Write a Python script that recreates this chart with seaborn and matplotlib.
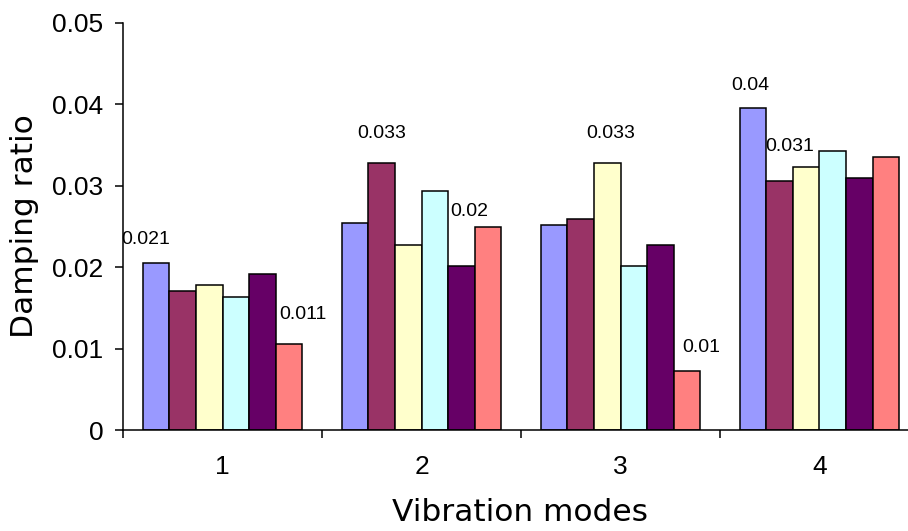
import matplotlib
matplotlib.use("Agg")
import matplotlib.pyplot as plt
import seaborn as sns
import pandas as pd
from matplotlib.ticker import FixedLocator

# ---- data ----
modes = ["1", "2", "3", "4"]
series = ["S1", "S2", "S3", "S4", "S5", "S6"]
s1 = [0.0205, 0.0254, 0.0252, 0.0396]
s2 = [0.0171, 0.0328, 0.0259, 0.0306]
s3 = [0.0178, 0.0227, 0.0328, 0.0323]
s4 = [0.0163, 0.0294, 0.0202, 0.0343]
s5 = [0.0192, 0.0202, 0.0227, 0.0309]
s6 = [0.0106, 0.0249, 0.0072, 0.0335]
y_ticks = [0, 0.01, 0.02, 0.03, 0.04, 0.05]
y_tick_labels = ["0", "0.01", "0.02", "0.03", "0.04", "0.05"]
# value labels: (mode index, series index, text)
label_mode = [0, 0, 1, 1, 2, 2, 3, 3]
label_series = [0, 5, 1, 4, 2, 5, 0, 1]
label_text = ["0.021", "0.011", "0.033", "0.02", "0.033", "0.01", "0.04", "0.031"]

# ---- styles ----
colors = ["#9999FF", "#993366", "#FFFFCC", "#CCFFFF", "#660066", "#FF8080"]
label_offsets = [(-10, 24), (14, 29), (0, 30), (8, 54), (3, 30), (14, 24), (-3, 22), (10, 34)]

rows = []
for name, vals in zip(series, [s1, s2, s3, s4, s5, s6]):
    for m, v in zip(modes, vals):
        rows.append({"mode": m, "series": name, "value": v})
df = pd.DataFrame(rows)

sns.set_style("white")
plt.rcParams["font.family"] = ["Liberation Sans", "DejaVu Sans"]
plt.rcParams["axes.labelcolor"] = "black"
plt.rcParams["text.color"] = "black"

W, H = 908, 531
fig = plt.figure(figsize=(W / 100, H / 100), dpi=100)
ax = fig.add_axes([123 / W, (H - 430) / H, (908 - 123) / W, (430 - 23) / H])

sns.barplot(data=df, x="mode", y="value", hue="series", order=modes,
            hue_order=series, palette=colors, width=0.8, edgecolor="black",
            linewidth=1.1, saturation=1, legend=False, ax=ax, errorbar=None)

ax.set_ylim(0, 0.05)
ax.set_xlim(-0.5, 3.5 - 11 / 199)
ax.set_yticks(y_ticks)
ax.set_yticklabels(y_tick_labels)

for sp in ["top", "right"]:
    ax.spines[sp].set_visible(False)
for sp in ["left", "bottom"]:
    ax.spines[sp].set_color("black")
    ax.spines[sp].set_linewidth(1.1)

ax.tick_params(axis="y", direction="out", length=6, width=1.1, pad=8,
               labelsize=19, colors="black", left=True)
ax.tick_params(axis="x", which="major", length=0, pad=18, labelsize=19,
               colors="black")
ax.xaxis.set_minor_locator(FixedLocator([-0.5, 0.5, 1.5, 2.5]))
ax.tick_params(axis="x", which="minor", direction="out", length=6,
               width=1.1, bottom=True, color="black")

label_font = dict(fontsize=22.5, family=["DejaVu Sans"], color="black")
ax.set_xlabel("Vibration modes", **label_font)
ax.set_ylabel("Damping ratio", **label_font)
ax.xaxis.set_label_coords((520 - 123) / 785, -(498 - 430) / 407)
ax.yaxis.set_label_coords((39 - 123) / 785, 0.5)

# value labels from bar patches
n_modes = len(modes)
patches = [p for p in ax.patches if p.get_height() > 0]
for mi, si, txt, (dx, dy) in zip(label_mode, label_series, label_text, label_offsets):
    p = patches[si * n_modes + mi]
    xc = p.get_x() + p.get_width() / 2
    ax.annotate(txt, (xc, p.get_height()), xytext=(dx, dy),
                textcoords="offset pixels", ha="center", va="center",
                fontsize=14, color="black", annotation_clip=False)

fig.savefig("out.png", dpi=100)
